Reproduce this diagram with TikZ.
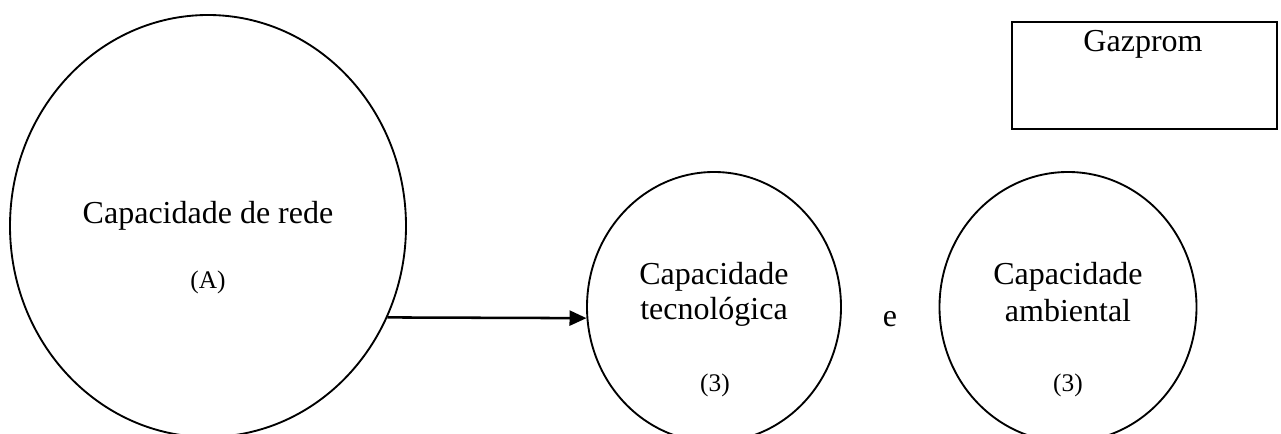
\documentclass[tikz,border=0pt]{standalone}
\usepackage{fontspec}
\setmainfont{Liberation Serif}
\usetikzlibrary{shapes.geometric,arrows.meta}
\tikzset{
  bubble/.style={draw, ellipse, line width=1.4pt, inner sep=0pt},
  bigtext/.style={font=\fontsize{24pt}{26pt}\selectfont, anchor=base, inner sep=0pt},
  smalltext/.style={font=\fontsize{19pt}{21pt}\selectfont, anchor=base, inner sep=0pt},
  link/.style={line width=1.9pt, -{Triangle[length=12.75pt,width=11.25pt]}},
  framebox/.style={draw, rectangle, line width=2.1pt, inner sep=0pt}
}
\begin{document}
\begin{tikzpicture}[x=0.75pt, y=-0.75pt]
\fill[white] (0,0) rectangle (1281,434);
\clip (0,0) rectangle (1281,434);

% network capability
\node[bubble, minimum width=297pt, minimum height=316.5pt] (rede) at (208,226) {};
\node[bigtext] (redeT) at (208,224) {Capacidade de rede};
\node[smalltext] (redeA) at (208,289) {(A)};

% technological capability
\node[bubble, minimum width=190.5pt, minimum height=202.5pt] (tec) at (714,307) {};
\node[bigtext] (tecT1) at (714,285) {Capacidade};
\node[bigtext] (tecT2) at (714,320) {tecnológica};
\node[smalltext] (tecN) at (715,392) {(3)};

% conjunction
\node[bigtext] (conj) at (890,327) {e};

% environmental capability
\node[bubble, minimum width=192.75pt, minimum height=202.5pt] (amb) at (1068,307) {};
\node[bigtext] (ambT1) at (1068,285) {Capacidade};
\node[bigtext] (ambT2) at (1068,322) {ambiental};
\node[smalltext] (ambN) at (1068,392) {(3)};

% company box
\node[framebox, minimum width=198.75pt, minimum height=80.25pt] (gaz) at (1144.5,75.5) {};
\node[bigtext] (gazT) at (1143,52) {Gazprom};

% arrow between capabilities
\draw[link] (rede.-27.6) -- (tec.185);
\end{tikzpicture}
\end{document}
